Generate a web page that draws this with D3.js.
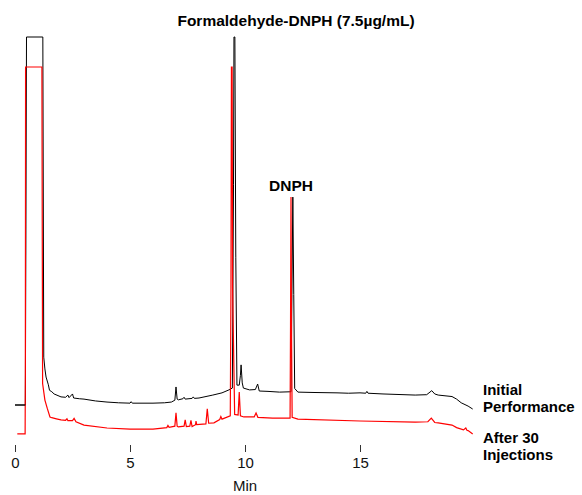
<!DOCTYPE html>
<html>
<head>
<meta charset="utf-8">
<script src="https://cdn.jsdelivr.net/npm/d3@7"></script>
<style>
  body { margin: 0; background: #fff; }
  text { font-family: "Liberation Sans", Arial, Helvetica, sans-serif; }
</style>
</head>
<body>
<script>
const width = 582;
const height = 495;

// retention time (min) and detector response (relative units, clipped at 100)
const timeInitial = [0, 0.45, 0.5, 1.21, 1.25, 1.3, 1.35, 1.45, 1.5, 1.6, 1.7, 2.0, 2.2, 2.3, 2.35, 2.5, 2.55, 2.8, 3.0, 3.5, 4.0, 4.5, 5.0, 5.05, 5.1, 6.0, 6.5, 6.8, 6.95, 7.0, 7.05, 7.1, 7.3, 7.35, 7.4, 7.7, 7.75, 7.8, 8.0, 8.6, 9.0, 9.3, 9.45, 9.5, 9.52, 9.56, 9.6, 9.65, 9.75, 9.8, 9.83, 9.88, 9.93, 10.2, 10.45, 10.55, 10.62, 11.0, 11.5, 12.0, 12.04, 12.08, 12.12, 12.16, 12.3, 13.0, 14.0, 14.5, 15.0, 15.25, 15.3, 15.35, 16.0, 17.4, 17.9, 18.0, 18.12, 18.25, 18.4, 19.0, 19.2, 19.4, 19.7, 19.9];
const initial =     [0, 0, 100, 100, 13.0, 9.8, 7.6, 5.5, 4.0, 3.6, 3.0, 2.2, 2.1, 2.7, 2.0, 3.0, 1.9, 1.7, 1.6, 1.1, 0.8, 0.6, 0.5, 0.9, 0.5, 0.5, 0.6, 0.8, 1.3, 4.9, 1.6, 1.4, 1.7, 2.1, 1.6, 1.8, 2.2, 1.8, 1.9, 2.7, 3.3, 4.1, 4.6, 60, 100, 100, 40, 5.4, 5.4, 8.0, 10.9, 6.0, 4.6, 4.1, 4.2, 5.7, 3.8, 3.7, 3.5, 3.6, 30, 56.5, 30, 4.5, 3.5, 3.4, 3.3, 3.2, 3.3, 3.2, 3.7, 3.2, 3.0, 2.7, 2.8, 3.3, 3.9, 3.0, 2.7, 2.3, 1.6, 0.6, -0.3, -1.1];

const timeAfter = [0.1, 0.44, 0.45, 0.46, 1.17, 1.2, 1.3, 1.4, 1.52, 1.6, 1.8, 2.0, 2.2, 2.26, 2.3, 2.5, 2.57, 2.65, 3.0, 4.0, 5.0, 6.0, 6.6, 6.65, 6.7, 6.95, 7.0, 7.05, 7.1, 7.35, 7.4, 7.45, 7.6, 7.65, 7.7, 7.85, 7.87, 7.9, 8.3, 8.36, 8.42, 8.65, 8.9, 8.95, 9.0, 9.36, 9.39, 9.41, 9.44, 9.46, 9.55, 9.7, 9.75, 9.8, 9.95, 10.4, 10.48, 10.56, 11.2, 11.65, 11.96, 11.98, 12.0, 12.02, 12.05, 12.3, 15.0, 17.4, 17.95, 18.1, 18.25, 18.4, 19.0, 19.2, 19.5, 19.6, 19.65, 19.7, 19.9];
const after30 =   [0.3, 0.3, 17, 100, 100, 14, 9.5, 7.3, 4.9, 4.7, 4.4, 4.1, 4.0, 4.4, 3.9, 3.9, 4.5, 3.6, 2.7, 1.9, 1.6, 1.6, 2.0, 2.6, 2.1, 2.4, 6.0, 2.4, 2.2, 2.4, 4.1, 2.3, 2.4, 4.0, 2.3, 2.8, 3.8, 2.8, 3.0, 7.1, 3.2, 3.3, 4.2, 5.0, 4.3, 5.2, 40, 100, 100, 40, 5.6, 5.4, 11.7, 5.2, 4.9, 4.9, 6.0, 4.8, 4.6, 4.6, 4.6, 30, 64.7, 30, 4.8, 4.3, 3.8, 3.5, 3.6, 4.6, 3.4, 3.3, 2.7, 2.0, 1.4, 1.9, 1.3, 1.2, 0.3];

const xTicks = [0, 5, 10, 15];
const peakLabels = ["Formaldehyde-DNPH (7.5\u00b5g/mL)", "DNPH"];
const seriesLabels = [["Initial", "Performance"], ["After 30", "Injections"]];

const svg = d3.select("body")
  .append("svg")
  .attr("width", width)
  .attr("height", height);

const x = d3.scaleLinear().domain([0, 20]).range([15, 475]);
const y = d3.scaleLinear().domain([0, 100]).range([405, 37]);

const line = d3.line()
  .x((d) => x(d[0]))
  .y((d) => y(d[1]));

// initial trace
svg.append("path")
  .datum(d3.zip(timeInitial, initial))
  .attr("fill", "none")
  .attr("stroke", "#000")
  .attr("stroke-width", 1)
  .attr("d", line);

// after 30 injections, stacked 30px below
svg.append("g")
  .attr("transform", "translate(0,30)")
  .append("path")
  .datum(d3.zip(timeAfter, after30))
  .attr("fill", "none")
  .attr("stroke", "#f00")
  .attr("stroke-width", 1.2)
  .attr("d", line);

// x axis: ticks only
const axis = svg.append("g")
  .attr("transform", "translate(0,445)")
  .call(d3.axisBottom(x).tickValues(xTicks).tickSize(7).tickPadding(5).tickFormat(d3.format("d")));
axis.select(".domain").remove();
axis.selectAll("line").attr("stroke", "#333");
axis.selectAll("text")
  .attr("font-size", "15px")
  .attr("font-family", "Liberation Sans, Arial, sans-serif")
  .attr("fill", "#111");

svg.append("text")
  .attr("x", x(10))
  .attr("y", 491)
  .attr("text-anchor", "middle")
  .attr("font-size", "15px")
  .attr("fill", "#111")
  .text("Min");

// peak labels
svg.append("text")
  .attr("x", 296)
  .attr("y", 26)
  .attr("text-anchor", "middle")
  .attr("font-size", "15.5px")
  .attr("font-weight", "bold")
  .text(peakLabels[0]);

svg.append("text")
  .attr("x", 291)
  .attr("y", 191)
  .attr("text-anchor", "middle")
  .attr("font-size", "15.5px")
  .attr("font-weight", "bold")
  .text(peakLabels[1]);

// series labels at the right
seriesLabels.forEach((lines, i) => {
  const t = svg.append("text")
    .attr("x", 483)
    .attr("y", 395 + i * 48)
    .attr("font-size", "15px")
    .attr("font-weight", "bold");
  lines.forEach((s, j) => {
    t.append("tspan")
      .attr("x", 483)
      .attr("dy", j === 0 ? 0 : 17)
      .text(s);
  });
});

// baseline marker at left
svg.append("line")
  .attr("x1", x(0))
  .attr("x2", x(0.45))
  .attr("y1", y(0))
  .attr("y2", y(0))
  .attr("stroke", "#000");
</script>
</body>
</html>
